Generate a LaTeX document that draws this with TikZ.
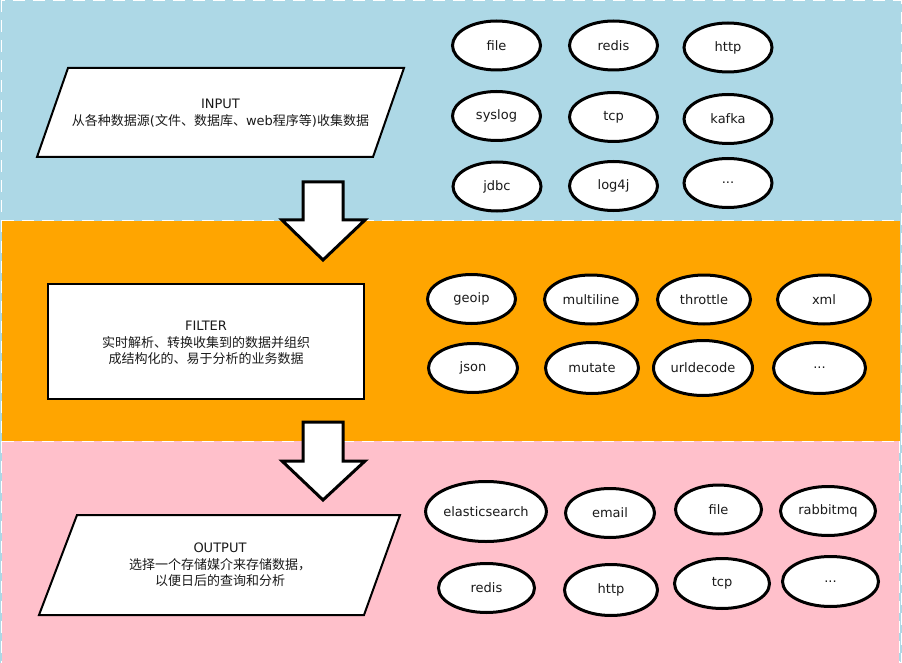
\documentclass[tikz,border=0pt]{standalone}
\usepackage{fontspec}
\setmainfont{DejaVu Sans}
\newfontfamily\cjk{Noto Sans CJK SC}
\usetikzlibrary{shapes.geometric}
\definecolor{bandblue}{HTML}{ADD8E6}
\definecolor{bandorange}{HTML}{FFA500}
\definecolor{bandpink}{HTML}{FFC0CB}
\definecolor{txtc}{HTML}{1A1A1A}
\begin{document}
\begin{tikzpicture}[x=1pt,y=-1pt,
  bandline/.style={draw=white,line width=1pt,dash pattern=on 12pt off 8pt},
  oval/.style={ellipse,draw=black,line width=3pt,fill=white,minimum width=88pt,minimum height=49pt,inner sep=0pt,text=txtc,font=\fontsize{13}{15}\selectfont},
  shapebox/.style={draw=black,line width=2pt,fill=white,line join=miter},
  bigarrow/.style={draw=black,line width=3pt,fill=white,line join=miter},
  desc/.style={align=center,text=txtc,font=\fontsize{13}{16.5}\selectfont}]
\useasboundingbox (0,0) rectangle (902,663);
% bands
\fill[bandblue] (0,0) rectangle (902,663);
\draw[bandline] (1,0.5) rectangle (901,662.5);
\fill[bandorange] (2,221) rectangle (900,441);
\draw[bandline] (2,221) -- (900,221);
\fill[bandpink] (2,441) rectangle (899,663);
\draw[bandline] (2,441) -- (899,441);
\draw[bandline] (899,441) -- (899,663);

% INPUT
\draw[shapebox] (68,68) -- (404,68) -- (373,157) -- (37,157) -- cycle;
\node[desc] (input) at (220.5,113) {INPUT\\{\cjk 从各种数据源}({\cjk 文件、数据库、}web{\cjk 程序等}){\cjk 收集数据}};

% FILTER
\draw[shapebox] (48,284) rectangle (364,399);
\node[desc] (filter) at (206,343) {FILTER\\{\cjk 实时解析、转换收集到的数据并组织}\\{\cjk 成结构化的、易于分析的业务数据}};

% OUTPUT
\draw[shapebox] (77,515) -- (400,515) -- (364,615) -- (39,615) -- cycle;
\node[desc] (output) at (220,565) {OUTPUT\\{\cjk 选择一个存储媒介来存储数据，}\\{\cjk 以便日后的查询和分析}};

% big arrows
\draw[bigarrow] (303,182) -- (343,182) -- (343,220) -- (365,220) -- (323,260) -- (282,220) -- (303,220) -- cycle;
\draw[bigarrow] (303,422) -- (343,422) -- (343,461) -- (365,461) -- (323,500) -- (282,461) -- (303,461) -- cycle;

% input plugins
\node[oval] (in1) at (496.5,45.5) {file};
\node[oval] (in2) at (613.5,45.5) {redis};
\node[oval] (in3) at (728,47.5) {http};
\node[oval] (in4) at (496.5,116) {syslog};
\node[oval] (in5) at (613.5,117) {tcp};
\node[oval] (in6) at (728,119) {kafka};
\node[oval] (in7) at (497,186.5) {jdbc};
\node[oval] (in8) at (613.5,186) {log4j};
\node[oval] (in9) at (728,183) {...};

% filter plugins
\node[oval] (f1) at (471.5,299) {geoip};
\node[oval,minimum width=93pt] (f2) at (591,299.5) {multiline};
\node[oval,minimum width=93pt] (f3) at (704,299.5) {throttle};
\node[oval,minimum width=93pt] (f4) at (824,299.5) {xml};
\node[oval,minimum width=89pt] (f5) at (473,368) {json};
\node[oval,minimum width=93pt,minimum height=51pt] (f6) at (592,368) {mutate};
\node[oval,minimum width=99pt,minimum height=55pt] (f7) at (703,368) {urldecode};
\node[oval,minimum width=92pt,minimum height=51pt] (f8) at (819.5,368) {...};

% output plugins
\node[oval,minimum width=117pt,minimum height=60pt] (o1) at (486,511.5) {elasticsearch};
\node[oval,minimum width=89pt] (o2) at (610,513) {email};
\node[oval,minimum width=86pt] (o3) at (718.5,509.5) {file};
\node[oval,minimum width=95pt] (o4) at (828,511) {rabbitmq};
\node[oval,minimum width=96pt] (o5) at (486.5,588) {redis};
\node[oval,minimum width=93pt,minimum height=51pt] (o6) at (611,590) {http};
\node[oval,minimum width=95pt,minimum height=50pt] (o7) at (722,583.5) {tcp};
\node[oval,minimum width=96pt,minimum height=50pt] (o8) at (830.5,581.5) {...};
\end{tikzpicture}
\end{document}
